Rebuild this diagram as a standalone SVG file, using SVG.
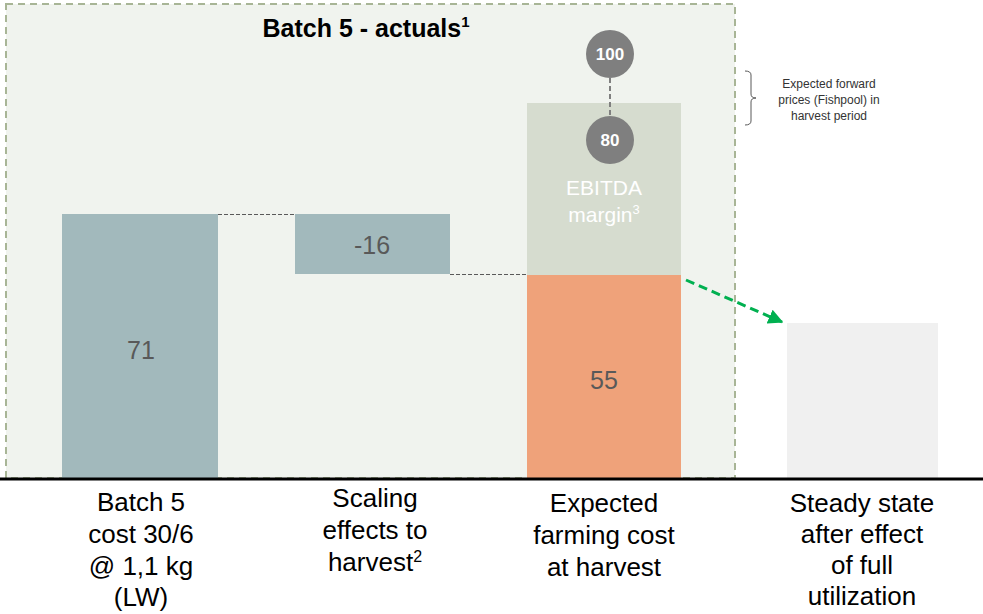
<svg xmlns="http://www.w3.org/2000/svg" width="983" height="614" viewBox="0 0 983 614">
<defs>
<style>
.lbl{font-family:"Liberation Sans Narrow","Liberation Sans",Arial,sans-serif;font-size:26px;fill:#000;text-anchor:middle}
.val{font-family:"Liberation Sans",Arial,sans-serif;font-size:25px;fill:#595959;text-anchor:middle}
.circ{fill:#7F7F7F}
.ct{font-family:"Liberation Sans",Arial,sans-serif;font-size:17px;font-weight:bold;fill:#fff;text-anchor:middle}
.conn{stroke:#595959;stroke-width:1.2;stroke-dasharray:4,2;fill:none}
.note{font-family:"Liberation Sans",Arial,sans-serif;font-size:12px;fill:#333;text-anchor:middle}
</style>
<marker id="ga" viewBox="0 0 10 10" refX="9" refY="5" markerWidth="5" markerHeight="5" orient="auto" markerUnits="strokeWidth">
<path d="M0,0 L10,5 L0,10 z" fill="#00B050"/>
</marker>
</defs>
<rect width="983" height="614" fill="#fff"/>
<g id="frame">
<rect x="6" y="4" width="729" height="474" fill="#F0F3EE" stroke="#A8B596" stroke-width="2" stroke-dasharray="7,5"/>
<text x="366" y="37" font-family="'Liberation Sans Narrow','Liberation Sans',Arial,sans-serif" font-size="25" font-weight="bold" text-anchor="middle" fill="#000">Batch 5 - actuals<tspan font-size="15" dy="-10">1</tspan></text>
</g>
<g id="bar1">
<rect x="62" y="214" width="156" height="264" fill="#A2B9BC"/>
<text class="val" x="141" y="359">71</text>
</g>
<g id="bar2">
<rect x="295" y="214" width="155" height="60" fill="#A2B9BC"/>
<text class="val" x="372" y="254">-16</text>
</g>
<g id="ebitda">
<rect x="527" y="103" width="154" height="172" fill="#D6DCCF"/>
<text x="604" y="195" font-family="'Liberation Sans',Arial,sans-serif" font-size="21" fill="#fff" text-anchor="middle">EBITDA</text>
<text x="604" y="222" font-family="'Liberation Sans',Arial,sans-serif" font-size="21" fill="#fff" text-anchor="middle">margin<tspan font-size="13" dy="-8">3</tspan></text>
</g>
<g id="bar3">
<rect x="527" y="275" width="154" height="203" fill="#EFA27A"/>
<text class="val" x="604" y="389">55</text>
</g>
<g id="bar4">
<rect x="787" y="323" width="151" height="155" fill="#F0F0F0"/>
</g>
<g id="connectors">
<line class="conn" x1="218" y1="214.5" x2="295" y2="214.5"/>
<line class="conn" x1="450" y1="274.5" x2="527" y2="274.5"/>
<line x1="610" y1="78" x2="610" y2="118" stroke="#7F7F7F" stroke-width="2" stroke-dasharray="5,3"/>
<line x1="686" y1="280" x2="782" y2="322" stroke="#00B050" stroke-width="3" stroke-dasharray="9,5" marker-end="url(#ga)"/>
</g>
<g id="p100">
<circle class="circ" cx="610" cy="54" r="24"/>
<text class="ct" x="610" y="60">100</text>
</g>
<g id="p80">
<circle class="circ" cx="610" cy="140" r="24"/>
<text class="ct" x="610" y="146">80</text>
</g>
<g id="bracket">
<path d="M745,71 Q751,71 751,75 L751,94 Q751,98 756,98 Q751,98 751,102 L751,121 Q751,125 745,125" fill="none" stroke="#595959" stroke-width="1"/>
<text class="note" x="829" y="88">Expected forward</text>
<text class="note" x="829" y="104">prices (Fishpool) in</text>
<text class="note" x="829" y="120">harvest period</text>
</g>
<line x1="0" y1="479" x2="983" y2="479" stroke="#000" stroke-width="3"/>
<g id="labels">
<text class="lbl" x="141" y="511">Batch 5</text>
<text class="lbl" x="141" y="543">cost 30/6</text>
<text class="lbl" x="141" y="575">@ 1,1 kg</text>
<text class="lbl" x="141" y="606">(LW)</text>
<text class="lbl" x="375" y="507">Scaling</text>
<text class="lbl" x="375" y="539">effects to</text>
<text class="lbl" x="375" y="571">harvest<tspan font-size="16" dy="-9">2</tspan></text>
<text class="lbl" x="604" y="512">Expected</text>
<text class="lbl" x="604" y="544">farming cost</text>
<text class="lbl" x="604" y="576">at harvest</text>
<text class="lbl" x="862" y="512">Steady state</text>
<text class="lbl" x="862" y="543">after effect</text>
<text class="lbl" x="862" y="574">of full</text>
<text class="lbl" x="862" y="605">utilization</text>
</g>
</svg>
